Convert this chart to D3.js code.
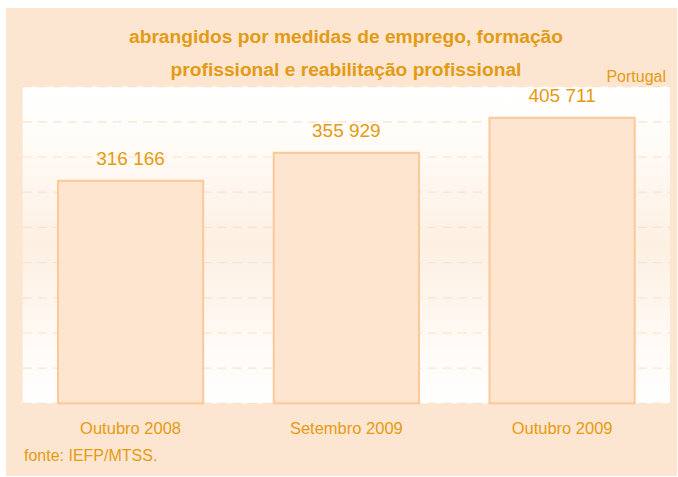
<!DOCTYPE html>
<html>
<head>
<meta charset="utf-8">
<script src="https://cdn.jsdelivr.net/npm/d3@7"></script>
<style>
html,body{margin:0;padding:0;background:#fff;}
svg{display:block;}
text{font-family:"Liberation Sans", Arial, sans-serif;}
</style>
</head>
<body>
<script>
const categories = ["Outubro 2008", "Setembro 2009", "Outubro 2009"];
const values = [316166, 355929, 405711];
const valueLabels = ["316 166", "355 929", "405 711"];
const titleLines = ["abrangidos por medidas de emprego, formação", "profissional e reabilitação profissional"];
const gridTicks = [0, 50000, 100000, 150000, 200000, 250000, 300000, 350000, 400000, 450000];

const W = 678, H = 477;
const svg = d3.select("body").append("svg").attr("width", W).attr("height", H);

const orange = "#E69A12";
const peach = "#FDE6D1";

// outer panel
svg.append("rect").attr("x", 6).attr("y", 8).attr("width", 671).attr("height", 468).attr("fill", peach);

const plot = {left: 22.7, right: 670, top: 86.6, bottom: 403.4};

const defs = svg.append("defs");
const grad = defs.append("linearGradient").attr("id", "bg").attr("x1", 0).attr("y1", 0).attr("x2", 0).attr("y2", 1);
grad.append("stop").attr("offset", "0%").attr("stop-color", "#ffffff");
grad.append("stop").attr("offset", "10%").attr("stop-color", "#fffefc");
grad.append("stop").attr("offset", "50%").attr("stop-color", "#fdf0e3");
grad.append("stop").attr("offset", "88%").attr("stop-color", "#fffcf9");
grad.append("stop").attr("offset", "100%").attr("stop-color", "#ffffff");

svg.append("rect").attr("x", plot.left).attr("y", plot.top)
  .attr("width", plot.right - plot.left).attr("height", plot.bottom - plot.top)
  .attr("fill", "url(#bg)");

const x = d3.scaleBand().domain(categories).range([plot.left, plot.right])
  .paddingInner(0.327).paddingOuter(0.1635);
const y = d3.scaleLinear().domain([0, 450000]).range([plot.bottom, plot.top]);

// dashed gridlines
svg.append("g").selectAll("line").data(gridTicks).join("line")
  .attr("x1", plot.left).attr("x2", plot.right)
  .attr("y1", d => y(d)).attr("y2", d => y(d))
  .attr("stroke", "#fde2c8").attr("stroke-width", 1.2)
  .attr("stroke-dasharray", "9,6");

// bars
svg.append("g").selectAll("rect").data(values).join("rect")
  .attr("x", (d, i) => x(categories[i]))
  .attr("y", d => y(d))
  .attr("width", x.bandwidth())
  .attr("height", d => y(0) - y(d))
  .attr("fill", "#FDE5CF")
  .attr("stroke", "#FDC898")
  .attr("stroke-width", 2);

// value labels
svg.append("g").selectAll("text").data(values).join("text")
  .attr("x", (d, i) => x(categories[i]) + x.bandwidth() / 2)
  .attr("y", d => y(d) - 16)
  .attr("text-anchor", "middle")
  .attr("font-size", 19)
  .attr("fill", orange)
  .text((d, i) => valueLabels[i]);

// category labels
svg.append("g").selectAll("text").data(categories).join("text")
  .attr("x", d => x(d) + x.bandwidth() / 2)
  .attr("y", 434)
  .attr("text-anchor", "middle")
  .attr("font-size", 16.5)
  .attr("fill", orange)
  .text(d => d);

// title
svg.append("g").selectAll("text").data(titleLines).join("text")
  .attr("x", 346)
  .attr("y", (d, i) => 42.5 + i * 33.5)
  .attr("text-anchor", "middle")
  .attr("font-size", 19.2)
  .attr("font-weight", "bold")
  .attr("fill", "#E39A14")
  .text(d => d);

svg.append("text").attr("x", 666).attr("y", 82).attr("text-anchor", "end")
  .attr("font-size", 16).attr("fill", orange).text("Portugal");

svg.append("text").attr("x", 24).attr("y", 461)
  .attr("font-size", 16).attr("fill", orange).text("fonte: IEFP/MTSS.");
</script>
</body>
</html>
